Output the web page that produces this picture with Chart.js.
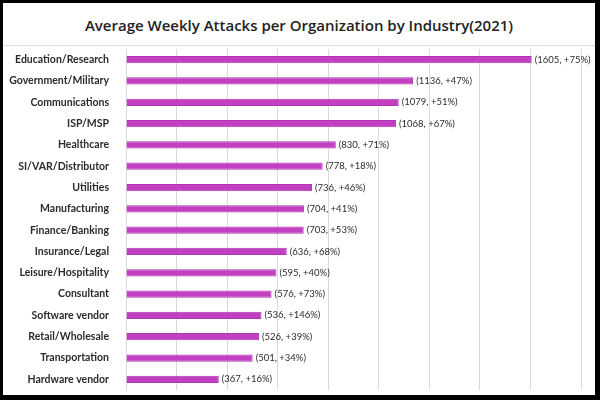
<!DOCTYPE html>
<html>
<head>
<meta charset="utf-8">
<script src="https://cdn.jsdelivr.net/npm/chart.js@4/dist/chart.umd.min.js"></script>
<style>
  html, body { margin: 0; padding: 0; background: #000; }
  #frame { position: absolute; left: 3px; top: 3px; width: 592px; height: 392px; background: #fff; }
  #title { height: 42px; border-bottom: 1px solid #dcdcdc; text-align: center;
           font-family: "Open Sans", sans-serif; font-weight: 600; font-size: 15px;
           color: #222; line-height: 44px; }
  #wrap { position: relative; width: 592px; height: 349px; }
</style>
</head>
<body>
<div id="frame">
  <div id="title">Average Weekly Attacks per Organization by Industry(2021)</div>
  <div id="wrap"><canvas id="barChart"></canvas></div>
</div>
<script>
const industries = ['Education/Research', 'Government/Military', 'Communications', 'ISP/MSP',
  'Healthcare', 'SI/VAR/Distributor', 'Utilities', 'Manufacturing', 'Finance/Banking',
  'Insurance/Legal', 'Leisure/Hospitality', 'Consultant', 'Software vendor',
  'Retail/Wholesale', 'Transportation', 'Hardware vendor']
const attacks = [1605, 1136, 1079, 1068, 830, 778, 736, 704, 703, 636, 595, 576, 536, 526, 501, 367]
const growth = ['+75%', '+47%', '+51%', '+67%', '+71%', '+18%', '+46%', '+41%', '+53%',
  '+68%', '+40%', '+73%', '+146%', '+39%', '+34%', '+16%']

// labels "(value, growth)" at the end of each bar
const endLabels = {
    id: 'endLabels',
    afterDatasetsDraw(chart) {
        const ctx = chart.ctx
        const meta = chart.getDatasetMeta(0)
        ctx.save()
        ctx.font = '9.5px Lato, sans-serif'
        ctx.fillStyle = '#2b2b2b'
        ctx.textBaseline = 'middle'
        meta.data.forEach((bar, i) => {
            ctx.fillText('(' + attacks[i] + ', ' + growth[i] + ')', bar.x + 3, bar.y)
        })
        ctx.restore()
    }
}

const ctxBar = document.getElementById('barChart').getContext('2d');
const chart = new Chart(ctxBar, {
    type: 'bar',
    data: {
        labels: industries,
        datasets: [{
            data: attacks,
            backgroundColor: '#c13fc1',
            borderColor: '#b035b0',
            borderWidth: 1,
            barPercentage: 0.34,
            categoryPercentage: 1
        }]
    },
    plugins: [endLabels],
    options: {
        indexAxis: 'y',
        responsive: true,
        maintainAspectRatio: false,
        animation: false,
        layout: { padding: { top: 3, right: 14, bottom: 5, left: 0 } },
        plugins: {
            legend: { display: false },
            tooltip: { enabled: false }
        },
        scales: {
            x: {
                min: 0, max: 1800,
                ticks: { display: false, stepSize: 200 },
                grid: { color: '#dadada', drawTicks: false },
                border: { display: false }
            },
            y: {
                grid: { display: false },
                border: { color: '#dadada' },
                ticks: {
                    padding: 9,
                    color: '#2b2b2b',
                    font: { family: 'Lato, sans-serif', weight: 'bold', size: 10.5 }
                },
                afterFit(scale) {
                    scale.width = 123
                    scale.paddingTop = 0
                    scale.paddingBottom = 0
                }
            }
        }
    }
});
</script>
</body>
</html>
